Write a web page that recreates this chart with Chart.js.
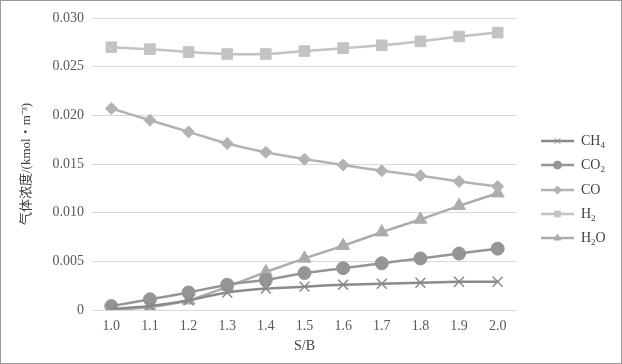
<!DOCTYPE html>
<html lang="zh-CN">
<head>
  <meta charset="UTF-8">
  <title>气体浓度 vs S/B</title>
  <script src="https://cdn.jsdelivr.net/npm/chart.js"></script>
  <style>
    html, body { margin: 0; padding: 0; background: #fff; }
    #box {
      width: 622px; height: 364px;
      box-sizing: border-box;
      border: 1px solid #9a9a9a;
      background: #fff;
    }
    canvas { display: block; }
  </style>
</head>
<body>
  <div id="box"><canvas id="grafico" width="620" height="362"></canvas></div>

  <script>
    const categorias = ['1.0', '1.1', '1.2', '1.3', '1.4', '1.5', '1.6', '1.7', '1.8', '1.9', '2.0'];
    const ch4 = [0.0001, 0.0004, 0.0010, 0.0018, 0.0022, 0.0024, 0.0026, 0.0027, 0.0028, 0.0029, 0.0029];
    const co2 = [0.0004, 0.0011, 0.0018, 0.0026, 0.0031, 0.0038, 0.0043, 0.0048, 0.0053, 0.0058, 0.0063];
    const co  = [0.0207, 0.0195, 0.0183, 0.0171, 0.0162, 0.0155, 0.0149, 0.0143, 0.0138, 0.0132, 0.0127];
    const h2  = [0.0270, 0.0268, 0.0265, 0.0263, 0.0263, 0.0266, 0.0269, 0.0272, 0.0276, 0.0281, 0.0285];
    const h2o = [0.0000, 0.0003, 0.0010, 0.0024, 0.0039, 0.0053, 0.0066, 0.0080, 0.0093, 0.0107, 0.0120];
    const yTicks = [0, 0.005, 0.010, 0.015, 0.020, 0.025, 0.030];

    const serif = '"Liberation Serif", "Times New Roman", serif';

    function serie(label, dados, cor, estilo, raio) {
      return {
        label: label,
        data: dados,
        borderColor: cor,
        backgroundColor: cor,
        pointBackgroundColor: cor,
        pointBorderColor: cor,
        pointStyle: estilo,
        pointRadius: raio,
        pointBorderWidth: estilo === 'crossRot' ? 1.5 : 1,
        borderWidth: 2.5,
        tension: 0.25
      };
    }

    // legenda desenhada à mão: linha + marcador + texto com subscrito
    const legendaPlugin = {
      id: 'legendaManual',
      afterDraw(chart) {
        const ctx = chart.ctx;
        const ys = [140, 164, 189, 213, 237];
        const x0 = 540, x1 = 573, xt = 580;
        chart.data.datasets.forEach((ds, i) => {
          const y = ys[i];
          ctx.save();
          ctx.strokeStyle = ds.borderColor;
          ctx.fillStyle = ds.borderColor;
          ctx.lineWidth = 2.5;
          ctx.beginPath();
          ctx.moveTo(x0, y);
          ctx.lineTo(x1, y);
          ctx.stroke();
          ctx.lineWidth = 1;
          Chart.helpers.drawPoint(ctx, { pointStyle: ds.pointStyle, radius: 4, rotation: 0, borderWidth: 1 }, (x0 + x1) / 2, y);
          // texto
          ctx.fillStyle = '#404040';
          ctx.textBaseline = 'middle';
          let x = xt;
          for (const ch of ds.label) {
            if (/[0-9]/.test(ch)) {
              ctx.font = '9px ' + serif;
              ctx.fillText(ch, x, y + 5);
              x += ctx.measureText(ch).width;
            } else {
              ctx.font = '14px ' + serif;
              ctx.fillText(ch, x, y);
              x += ctx.measureText(ch).width;
            }
          }
          ctx.restore();
        });
      }
    };

    const ctx = document.getElementById('grafico').getContext('2d');
    const chart = new Chart(ctx, {
      type: 'line',
      data: {
        labels: categorias,
        datasets: [
          serie('CH4', ch4, '#8a8a8a', 'crossRot', 7),
          serie('CO2', co2, '#959595', 'circle', 6.5),
          serie('CO', co, '#b3b3b3', 'rectRot', 6),
          serie('H2', h2, '#c3c3c3', 'rect', 7.5),
          serie('H2O', h2o, '#acacac', 'triangle', 7.5)
        ]
      },
      options: {
        responsive: false,
        animation: false,
        layout: { padding: { left: 18, right: 104, top: 17, bottom: 4 } },
        plugins: {
          legend: { display: false },
          tooltip: { enabled: false }
        },
        scales: {
          x: {
            offset: true,
            grid: { display: false },
            border: { display: false },
            ticks: { color: '#595959', font: { family: serif, size: 14 }, padding: 0 },
            title: { display: true, text: 'S/B', color: '#404040', font: { family: serif, size: 14 }, padding: { top: 4 } },
            afterFit: s => { s.height = 49; }
          },
          y: {
            min: 0,
            max: 0.030,
            afterBuildTicks: s => { s.ticks = yTicks.map(v => ({ value: v })); },
            grid: { color: '#d9d9d9', lineWidth: 1, drawTicks: false },
            border: { display: false },
            ticks: {
              color: '#595959',
              font: { family: serif, size: 14 },
              padding: 8,
              callback: v => v === 0 ? '0' : v.toFixed(3)
            },
            title: {
              display: true,
              text: '气体浓度/(kmol・m⁻³)',
              color: '#404040',
              font: { family: serif.replace('"Times New Roman"', '"Noto Sans CJK SC"'), size: 13 },
              padding: 0
            },
            afterFit: s => { s.width = 73; }
          }
        }
      },
      plugins: [legendaPlugin]
    });
  </script>
</body>
</html>
